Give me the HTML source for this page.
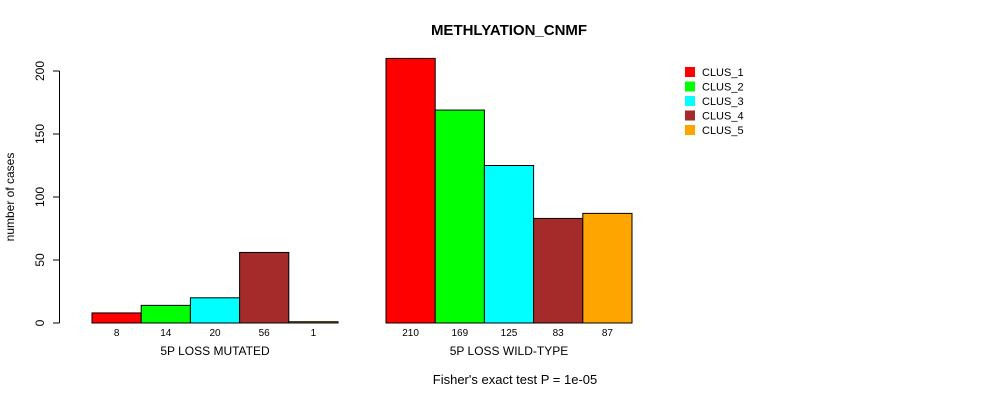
<!DOCTYPE html>
<html><head><meta charset="utf-8"><style>body{margin:0;background:#fff}svg{display:block;font-family:"Liberation Sans",sans-serif}</style></head>
<body>
<svg id="c" width="990" height="400">
<text x="509" y="35" text-anchor="middle" font-weight="bold" font-size="15">METHLYATION_CNMF</text>
<text transform="translate(14,197) rotate(-90)" text-anchor="middle" font-size="12">number of cases</text>
<text x="515" y="384" text-anchor="middle" font-size="13">Fisher's exact test P = 1e-05</text>
<g id="axis"></g><g id="bars"></g><g id="legend"></g>
</svg>
<script>
const groups=["5P LOSS MUTATED","5P LOSS WILD-TYPE"];
const series=["CLUS_1","CLUS_2","CLUS_3","CLUS_4","CLUS_5"];
const colors=["#ff0000","#00ff00","#00ffff","#a52a2a","#ffa500"];
const mutated=[8,14,20,56,1];
const wildtype=[210,169,125,83,87];
const yTicks=[0,50,100,150,200];
const NS="http://www.w3.org/2000/svg";
function y(v){return 323-v*1.26;}
const groupStart=[92,386],bw=49.2;
function el(t,a,p){const e=document.createElementNS(NS,t);for(const k in a)e.setAttribute(k,a[k]);p.appendChild(e);return e;}
const ax=document.getElementById('axis');
const al=el('line',{x1:59.5,x2:59.5,y1:y(200),y2:y(0),stroke:'#000'},ax);


yTicks.forEach(t=>{
 const l=el('line',{x1:53,x2:59.5,y1:y(t),y2:y(t),stroke:'#000'},ax);
 
 
 const tx=el('text',{transform:`translate(44,${y(t)}) rotate(-90)`,'text-anchor':'middle','font-size':12},ax);
 tx.textContent=t;
 
 
});
const bg=document.getElementById('bars');
[mutated,wildtype].forEach((vals,g)=>{
 vals.forEach((v,i)=>{
  const x=groupStart[g]+i*bw;
  const r=el('rect',{x:x,y:y(v),width:bw,height:y(0)-y(v),fill:colors[i],stroke:'#000','stroke-width':1},bg);
  
  
  const t=el('text',{x:x+bw/2,y:336,'text-anchor':'middle','font-size':10},bg);
  t.textContent=v;
  
  
 });
 const gl=el('text',{x:groupStart[g]+bw*2.5,y:355,'text-anchor':'middle','font-size':12},bg);
 gl.textContent=groups[g];
 
 
});
const lg=document.getElementById('legend');
series.forEach((s,i)=>{
 const yy=67+i*14.5;
 const r=el('rect',{x:685,y:yy,width:10,height:10,fill:colors[i]},lg);
 
 
 const t=el('text',{x:702,y:yy+9,'font-size':11},lg);
 t.textContent=s;
 
 
});
</script>
</body></html>
